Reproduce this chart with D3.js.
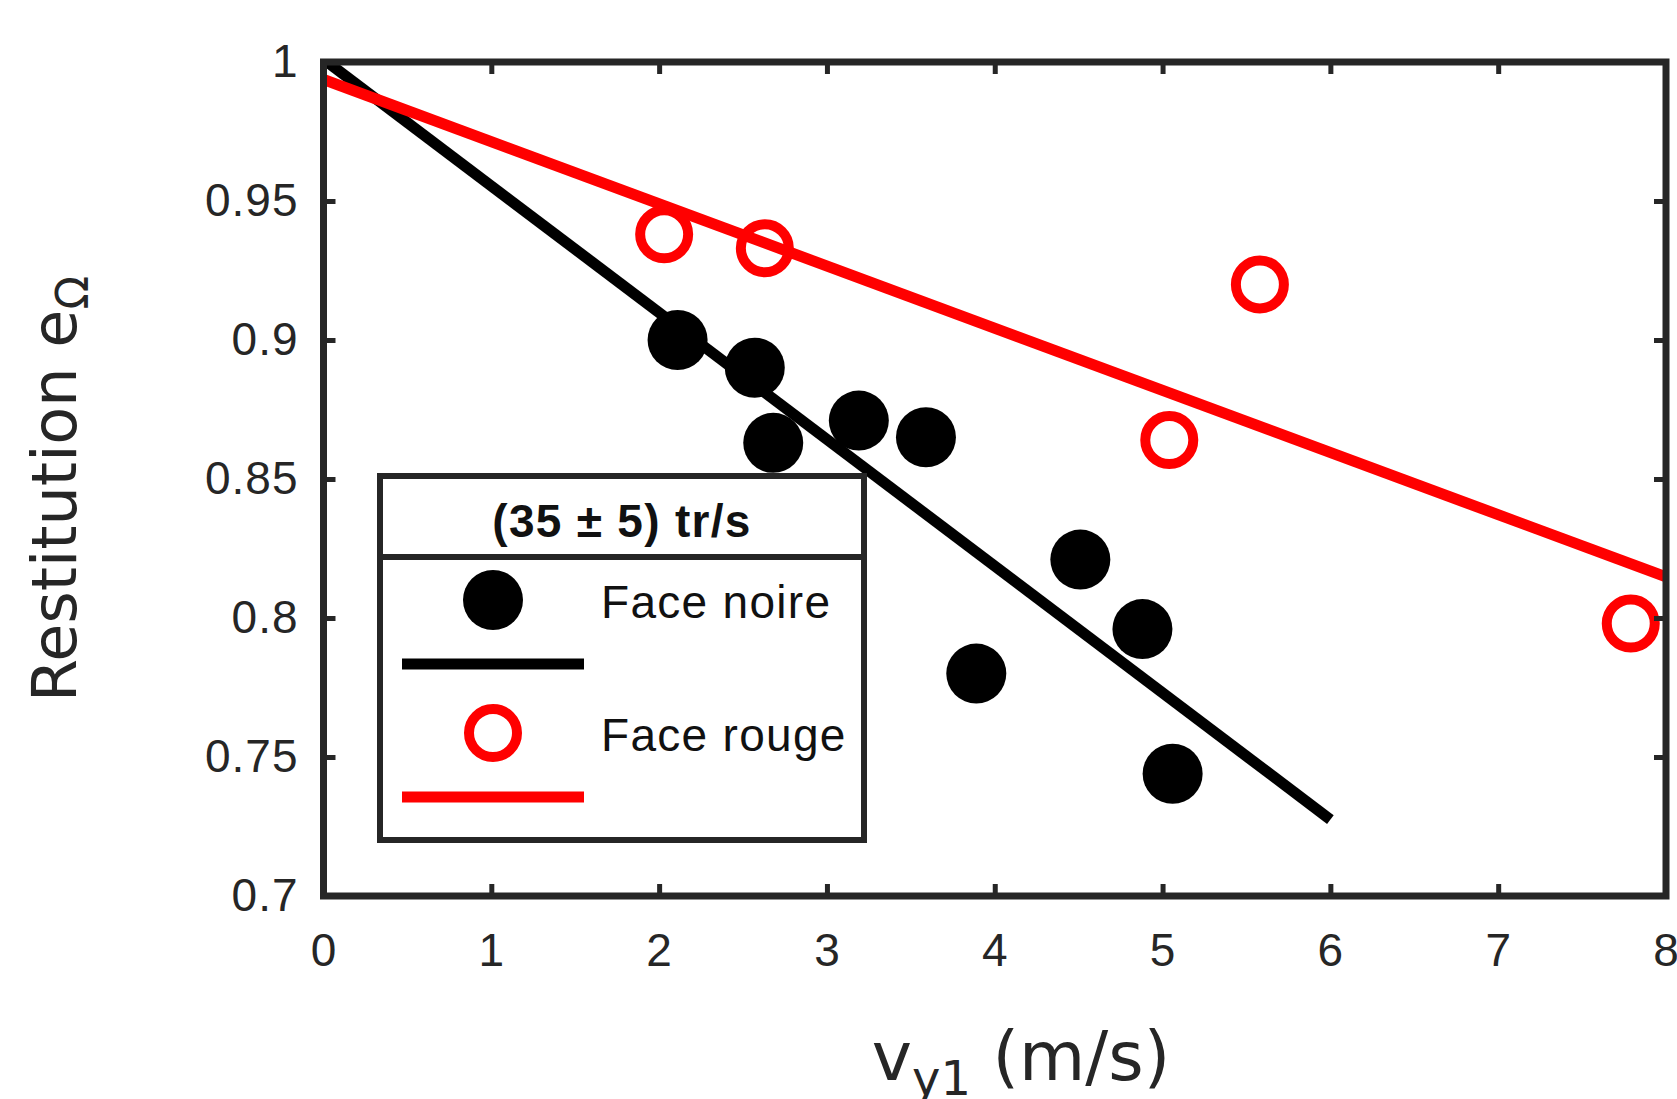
<!DOCTYPE html>
<html>
<head>
<meta charset="utf-8">
<script src="https://cdn.jsdelivr.net/npm/d3@7"></script>
<style>
  body { margin: 0; background: #fff; }
  svg { display: block; }
  .axis .tick text { font-family: "Liberation Sans", Arial, sans-serif; font-size: 46px; letter-spacing: 1px; fill: #262626; }
  .axis .tick line { stroke: #262626; stroke-width: 5; }
  .label { font-family: "DejaVu Sans", sans-serif; fill: #262626; }
  .legend text { font-family: "Liberation Sans", Arial, sans-serif; font-size: 46px; letter-spacing: 1.3px; fill: #111; }
</style>
</head>
<body>
<script>
// axes
const xTicks = [0, 1, 2, 3, 4, 5, 6, 7, 8]
const yTicks = [0.7, 0.75, 0.8, 0.85, 0.9, 0.95, 1]
const xDomain = [0, 8]
const yDomain = [0.7, 1]

// face noire (filled black)
const noireV = [2.11, 2.57, 2.68, 3.19, 3.59, 4.51, 4.88, 3.89, 5.06]
const noireE = [0.900, 0.890, 0.863, 0.871, 0.865, 0.821, 0.796, 0.780, 0.744]
const fitNoireV = [0, 6]
const fitNoireE = [1.001, 0.7275]

// face rouge (open red)
const rougeV = [2.03, 2.63, 5.58, 5.04, 7.79]
const rougeE = [0.938, 0.933, 0.920, 0.864, 0.798]
const fitRougeV = [0, 8]
const fitRougeE = [0.9937, 0.8148]

const legendTitle = '(35 ± 5) tr/s'
const legendNames = ['Face noire', 'Face rouge']

const W = 1677, H = 1099
const M = { top: 62, right: 11, bottom: 203, left: 323.5 }
const iw = W - M.left - M.right
const ih = H - M.top - M.bottom
const INK = '#262626'
const RED = '#ff0000'

const svg = d3.select('body').append('svg')
  .attr('width', W)
  .attr('height', H)

const x = d3.scaleLinear().domain(xDomain).range([0, iw])
const y = d3.scaleLinear().domain(yDomain).range([ih, 0])

const g = svg.append('g')
  .attr('transform', 'translate(' + [M.left, M.top] + ')')

g.append('clipPath')
    .attr('id', 'plot-clip')
  .append('rect')
    .attr('width', iw)
    .attr('height', ih)

// fit lines
let zip = (xs, ys) => xs.map((v, i) => [v, ys[i]])
let line = d3.line().x((d) => x(d[0])).y((d) => y(d[1]))

let lines = g.append('g').attr('clip-path', 'url(#plot-clip)')

lines.append('path')
  .datum(zip(fitNoireV, fitNoireE))
  .attr('d', line)
  .attr('fill', 'none')
  .attr('stroke', '#000')
  .attr('stroke-width', 11)

lines.append('path')
  .datum(zip(fitRougeV, fitRougeE))
  .attr('d', line)
  .attr('fill', 'none')
  .attr('stroke', RED)
  .attr('stroke-width', 11)

// markers
g.append('g').selectAll('circle')
  .data(zip(noireV, noireE))
  .enter().append('circle')
    .attr('cx', (d) => x(d[0]))
    .attr('cy', (d) => y(d[1]))
    .attr('r', 30)
    .attr('fill', '#000')

g.append('g').selectAll('circle')
  .data(zip(rougeV, rougeE))
  .enter().append('circle')
    .attr('cx', (d) => x(d[0]))
    .attr('cy', (d) => y(d[1]))
    .attr('r', 24)
    .attr('fill', 'none')
    .attr('stroke', RED)
    .attr('stroke-width', 10)

// axes, ticks pointing inward on all four sides
let fmtY = (d) => d === 1 ? '1' : String(d)

g.append('g')
  .attr('class', 'axis')
  .attr('transform', 'translate(0,' + ih + ')')
  .call(d3.axisBottom(x).tickValues(xTicks).tickSizeInner(-12).tickSizeOuter(0).tickPadding(37).tickFormat(d3.format('d')))
  .call((s) => s.select('.domain').remove())

g.append('g')
  .attr('class', 'axis')
  .call(d3.axisTop(x).tickValues(xTicks).tickSizeInner(-12).tickSizeOuter(0).tickFormat(''))
  .call((s) => s.select('.domain').remove())

g.append('g')
  .attr('class', 'axis')
  .call(d3.axisLeft(y).tickValues(yTicks).tickSizeInner(-12).tickSizeOuter(0).tickPadding(25).tickFormat(fmtY))
  .call((s) => s.select('.domain').remove())

g.append('g')
  .attr('class', 'axis')
  .attr('transform', 'translate(' + iw + ',0)')
  .call(d3.axisRight(y).tickValues(yTicks).tickSizeInner(-12).tickSizeOuter(0).tickFormat(''))
  .call((s) => s.select('.domain').remove())

g.selectAll('.axis .tick text').attr('fill', INK)

// frame
g.append('rect')
  .attr('width', iw)
  .attr('height', ih)
  .attr('fill', 'none')
  .attr('stroke', INK)
  .attr('stroke-width', 7)

// axis labels
let xl = svg.append('text')
  .attr('class', 'label')
  .attr('font-size', '68px')
  .attr('x', 1021)
  .attr('y', 1080)
  .attr('text-anchor', 'middle')
xl.append('tspan').text('v')
xl.append('tspan').attr('font-size', '48px').attr('dy', 15).text('y1')
xl.append('tspan').attr('dy', -15).text(' (m/s)')

let yl = svg.append('text')
  .attr('class', 'label')
  .attr('font-size', '62px')
  .attr('transform', 'translate(76,' + (M.top + ih / 2 + 10) + ') rotate(-90)')
  .attr('text-anchor', 'middle')
yl.append('tspan').text('Restitution e')
yl.append('tspan').attr('font-size', '44px').attr('dy', 12).text('Ω')

// legend
let lg = svg.append('g').attr('class', 'legend')

lg.append('rect')
  .attr('x', 380).attr('y', 476)
  .attr('width', 484).attr('height', 364)
  .attr('fill', '#fff')
  .attr('stroke', INK)
  .attr('stroke-width', 6)

lg.append('line')
  .attr('x1', 380).attr('x2', 864)
  .attr('y1', 557).attr('y2', 557)
  .attr('stroke', INK)
  .attr('stroke-width', 6)

lg.append('text')
  .attr('x', 622).attr('y', 537)
  .attr('text-anchor', 'middle')
  .attr('font-weight', 'bold')
  .text(legendTitle)

let entries = lg.selectAll('.entry')
  .data(legendNames)
  .enter().append('g')
    .attr('class', 'entry')
    .attr('transform', (d, i) => 'translate(0,' + i * 133 + ')')

entries.append('circle')
  .attr('cx', 493).attr('cy', 600)
  .attr('r', (d, i) => i === 0 ? 30 : 24)
  .attr('fill', (d, i) => i === 0 ? '#000' : 'none')
  .attr('stroke', (d, i) => i === 0 ? 'none' : RED)
  .attr('stroke-width', 10)

entries.append('text')
  .attr('x', 601).attr('y', 618)
  .text((d) => d)

entries.append('line')
  .attr('x1', 402).attr('x2', 584)
  .attr('y1', 664).attr('y2', 664)
  .attr('stroke', (d, i) => i === 0 ? '#000' : RED)
  .attr('stroke-width', 11)
</script>
</body>
</html>
